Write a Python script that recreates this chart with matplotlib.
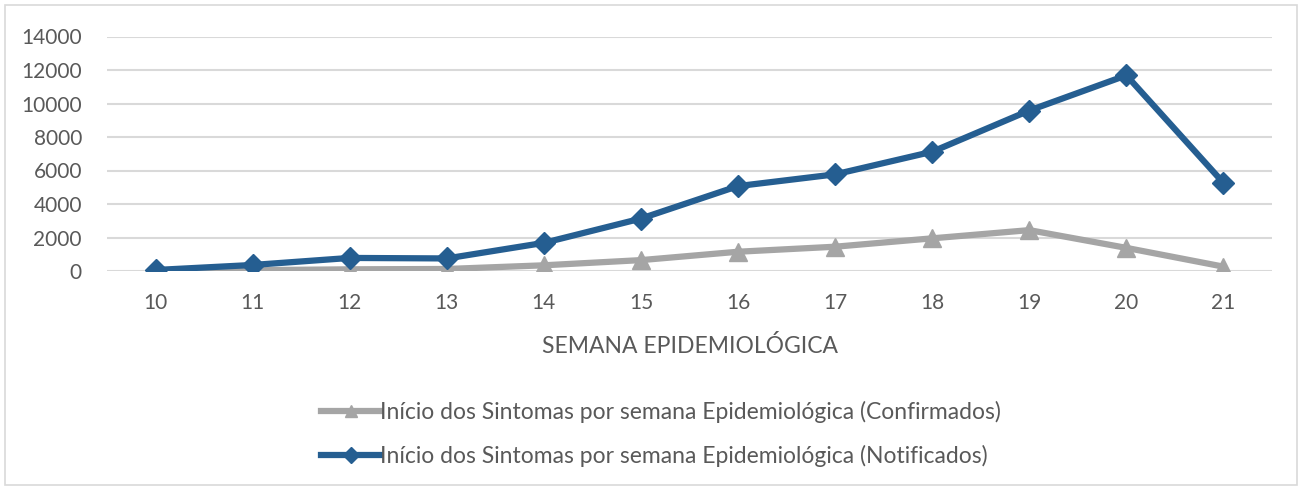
import matplotlib
matplotlib.use("Agg")
import matplotlib.pyplot as plt
from matplotlib.patches import Rectangle

semanas = [10, 11, 12, 13, 14, 15, 16, 17, 18, 19, 20, 21]
confirmados = [20, 50, 100, 120, 340, 650, 1150, 1450, 1950, 2440, 1380, 260]
notificados = [60, 360, 780, 750, 1680, 3130, 5070, 5770, 7120, 9580, 11680, 5260]
yticks = [0, 2000, 4000, 6000, 8000, 10000, 12000, 14000]
label_conf = "Início dos Sintomas por semana Epidemiológica (Confirmados)"
label_notif = "Início dos Sintomas por semana Epidemiológica (Notificados)"
xlabel = "SEMANA EPIDEMIOLÓGICA"

plt.rcParams['font.family'] = ['Lato', 'DejaVu Sans']
txt = '#595959'

fig = plt.figure(figsize=(13.01, 4.88), dpi=100)
fig.patches.append(Rectangle((5/1301, 3/488), 1292/1301, 480/488, transform=fig.transFigure,
                             fill=False, edgecolor='#D9D9D9', linewidth=1.2))
ax = fig.add_axes([107/1301, 1 - 271/488, 1165/1301, (271 - 36.5)/488])

x = list(range(len(semanas)))
ax.plot(x, confirmados, color='#A5A5A5', linewidth=4.5, marker='^', markersize=13,
        label=label_conf, zorder=3)
ax.plot(x, notificados, color='#255E91', linewidth=4.5, marker='D', markersize=11,
        label=label_notif, zorder=4)

ax.set_xlim(-0.5, len(semanas) - 0.5)
ax.set_ylim(0, 14000)
ax.set_yticks(yticks)
ax.set_yticklabels([str(v) for v in yticks])
ax.set_xticks(x)
ax.set_xticklabels([str(s) for s in semanas])
ax.grid(axis='y', color='#D9D9D9', linewidth=1.5)
ax.set_axisbelow(True)
for s in ax.spines.values():
    s.set_visible(False)
ax.tick_params(axis='both', length=0, colors=txt, labelsize=15)
ax.tick_params(axis='x', pad=16)
ax.tick_params(axis='y', pad=18)
ax.set_xlabel(xlabel, color=txt, fontsize=16.5, labelpad=16)

leg = fig.legend(loc='center', bbox_to_anchor=(661/1301, 1 - 434/488), ncol=1, frameon=False,
                 fontsize=16.5, labelcolor=txt, handlelength=2.6, handletextpad=0.0,
                 labelspacing=0.95, markerscale=0.7)

fig.savefig('out.png', dpi=100)
